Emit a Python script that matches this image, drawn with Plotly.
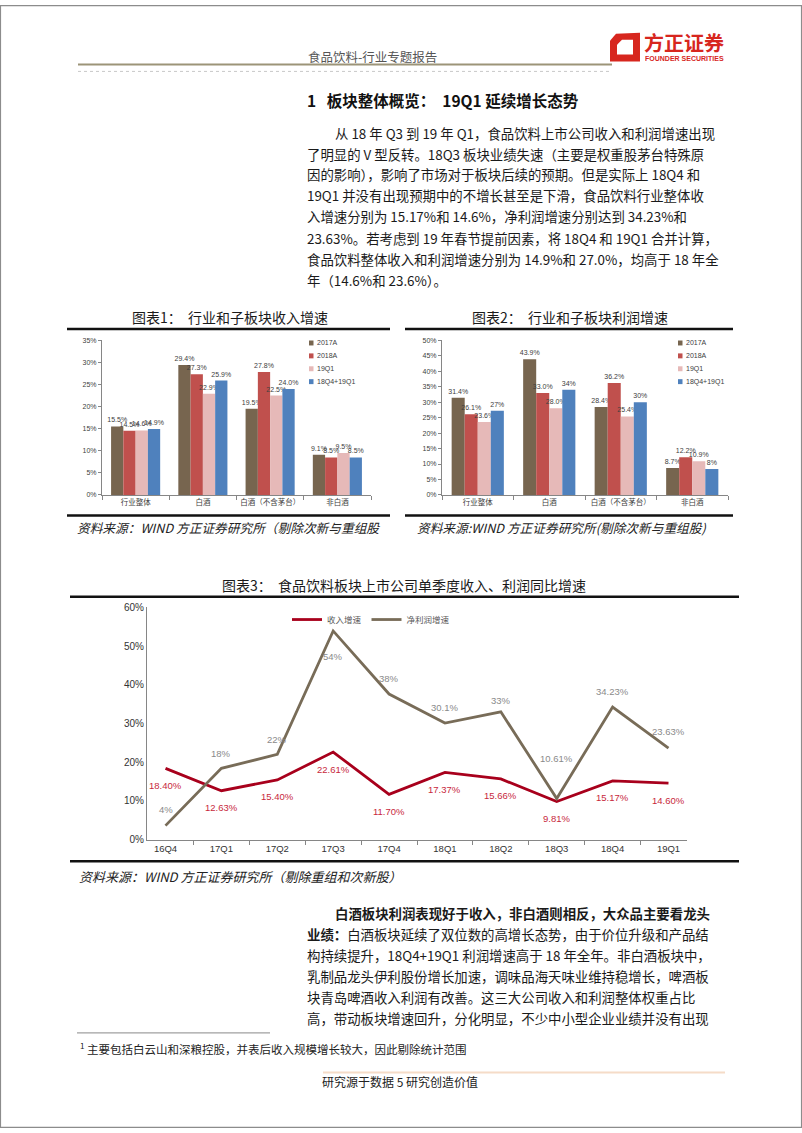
import plotly.graph_objects as go

W, H = 802, 1133


def X(p):
    return p / W


def Y(p):
    return 1 - p / H


# ---------------- data ----------------
categories = ["行业整体", "白酒", "白酒（不含茅台）", "非白酒"]
series_names = ["2017A", "2018A", "19Q1", "18Q4+19Q1"]

rev_2017A = [15.5, 29.4, 19.5, 9.1]
rev_2018A = [14.5, 27.3, 27.8, 8.5]
rev_19Q1 = [14.6, 22.9, 22.5, 9.5]
rev_18Q4_19Q1 = [14.9, 25.9, 24.0, 8.5]

prof_2017A = [31.4, 43.9, 28.4, 8.7]
prof_2018A = [26.1, 33.0, 36.2, 12.2]
prof_19Q1 = [23.6, 28.0, 25.4, 10.9]
prof_18Q4_19Q1 = [27.2, 34.0, 30.0, 8.4]
prof_18Q4_19Q1_labels = ["27%", "34%", "30%", "8%"]

quarters = ["16Q4", "17Q1", "17Q2", "17Q3", "17Q4", "18Q1", "18Q2", "18Q3", "18Q4", "19Q1"]
revenue_q = [18.40, 12.63, 15.40, 22.61, 11.70, 17.37, 15.66, 9.81, 15.17, 14.60]
profit_q = [3.6, 18.4, 22.0, 53.9, 37.6, 30.1, 33.0, 10.61, 34.23, 23.63]
profit_q_labels = ["4%", "18%", "22%", "54%", "38%", "30.1%", "33%", "10.61%", "34.23%", "23.63%"]
line_names = ["收入增速", "净利润增速"]

# ---------------- styles ----------------
bar_colors = ["#77654F", "#C0504D", "#E6B9B8", "#4F81BD"]
CJK = "Noto Sans CJK SC"
SANS = "Liberation Sans, Arial, Noto Sans CJK SC"
rev_color = "#A8001C"
prof_color = "#786C58"

fig = go.Figure()

rev_series = [rev_2017A, rev_2018A, rev_19Q1, rev_18Q4_19Q1]
prof_series = [prof_2017A, prof_2018A, prof_19Q1, prof_18Q4_19Q1]

barfont = dict(size=7, color="#404040", family=SANS)

for i, name in enumerate(series_names):
    fig.add_trace(go.Bar(
        x=categories, y=rev_series[i], name=name,
        marker=dict(color=bar_colors[i], line=dict(width=0)),
        text=[f"{v:.1f}%" for v in rev_series[i]],
        textposition="outside", cliponaxis=False, constraintext="none",
        textfont=barfont, showlegend=False,
        xaxis="x", yaxis="y", hoverinfo="skip",
    ))

for i, name in enumerate(series_names):
    labels = prof_18Q4_19Q1_labels if i == 3 else [f"{v:.1f}%" for v in prof_series[i]]
    fig.add_trace(go.Bar(
        x=categories, y=prof_series[i], name=name,
        marker=dict(color=bar_colors[i], line=dict(width=0)),
        text=labels,
        textposition="outside", cliponaxis=False, constraintext="none",
        textfont=barfont, showlegend=False,
        xaxis="x2", yaxis="y2", hoverinfo="skip",
    ))

fig.add_trace(go.Scatter(
    x=quarters, y=revenue_q, name=line_names[0], mode="lines",
    line=dict(color=rev_color, width=2.8), xaxis="x3", yaxis="y3",
    legend="legend3", cliponaxis=False, hoverinfo="skip",
))
fig.add_trace(go.Scatter(
    x=quarters, y=profit_q, name=line_names[1], mode="lines",
    line=dict(color=prof_color, width=2.8), xaxis="x3", yaxis="y3",
    legend="legend3", cliponaxis=False, hoverinfo="skip",
))

annotations = []
shapes = []

# line labels (data-anchored)
profit_label_shift = [16, 15, 15, -26, 16, 16, 11, 40, 16, 17]
for q, v, lab, s in zip(quarters, profit_q, profit_q_labels, profit_label_shift):
    annotations.append(dict(x=q, y=v, xref="x3", yref="y3", text=lab, showarrow=False,
                            yshift=s, font=dict(size=9.5, color="#8A8A8A", family=SANS)))
for q, v in zip(quarters, revenue_q):
    annotations.append(dict(x=q, y=v, xref="x3", yref="y3", text=f"{v:.2f}%", showarrow=False,
                            yshift=-17, font=dict(size=9.5, color="#C8283C", family=SANS)))


def txt(x, y, s, size=14, color="#1a1a1a", anchor="left", family=CJK, weight=None, style=None, height=None):
    f = dict(size=size, color=color, family=family)
    if weight:
        f["weight"] = weight
    if style:
        f["style"] = style
    a = dict(x=X(x), y=Y(y), xref="paper", yref="paper", text=s,
             showarrow=False, xanchor=anchor, yanchor="middle", font=f)
    if height:
        a["height"] = height
    annotations.append(a)


# manual compact legends for the two bar charts
legend_rows = [341, 354, 367, 380]
for lx in (309, 678):
    for name, color, ly in zip(series_names, bar_colors, legend_rows):
        shapes.append(dict(type="rect", xref="paper", yref="paper",
                           x0=X(lx), x1=X(lx + 4.5), y0=Y(ly + 2.5), y1=Y(ly - 2.5),
                           fillcolor=color, line=dict(width=0)))
        txt(lx + 5.5, ly, name, size=7, color="#404040", family=SANS)

# header
txt(306, 52, "食品饮料-行业专题报告", size=12.5, color="#555555")
txt(642, 37, "<b>方正证券</b>", size=20, color="#D7261E", height=22)
txt(643, 54, "<b>FOUNDER SECURITIES</b>", size=7, color="#D7261E", family=SANS, height=9)

# section title
txt(305, 96, "<b>1   板块整体概览：  19Q1 延续增长态势</b>", size=15.5, color="#111111")

para1 = [
    (333, 129, "从 18 年 Q3 到 19 年 Q1，食品饮料上市公司收入和利润增速出现"),
    (305, 150, "了明显的 V 型反转。18Q3 板块业绩失速（主要是权重股茅台特殊原"),
    (305, 171, "因的影响），影响了市场对于板块后续的预期。但是实际上 18Q4 和"),
    (305, 192, "19Q1 并没有出现预期中的不增长甚至是下滑，食品饮料行业整体收"),
    (305, 213, "入增速分别为 15.17%和 14.6%，净利润增速分别达到 34.23%和"),
    (305, 235, "23.63%。若考虑到 19 年春节提前因素，将 18Q4 和 19Q1 合并计算，"),
    (305, 256, "食品饮料整体收入和利润增速分别为 14.9%和 27.0%，均高于 18 年全"),
    (305, 277, "年（14.6%和 23.6%）。"),
]
for x, y, s in para1:
    txt(x, y, s, size=13.4)

# chart titles
txt(230, 315, "图表1：  行业和子板块收入增速", size=14, anchor="center")
txt(570, 315, "图表2：  行业和子板块利润增速", size=14, anchor="center")
txt(404, 585, "图表3：  食品饮料板块上市公司单季度收入、利润同比增速", size=14, anchor="center")

# sources
txt(75, 527, "资料来源：WIND 方正证券研究所（剔除次新与重组股", size=12.7, style="italic", color="#222222")
txt(415, 527, "资料来源:WIND 方正证券研究所(剔除次新与重组股)", size=12.7, style="italic", color="#222222")
txt(77, 879, "资料来源：WIND 方正证券研究所（剔除重组和次新股）", size=13, style="italic", color="#222222")

para2 = [
    (333, 916, "<b>白酒板块利润表现好于收入，非白酒则相反，大众品主要看龙头</b>"),
    (305, 937, "<b>业绩：</b>白酒板块延续了双位数的高增长态势，由于价位升级和产品结"),
    (305, 958, "构持续提升，18Q4+19Q1 利润增速高于 18 年全年。非白酒板块中，"),
    (305, 980, "乳制品龙头伊利股份增长加速，调味品海天味业维持稳增长，啤酒板"),
    (305, 1001, "块青岛啤酒收入利润有改善。这三大公司收入和利润整体权重占比"),
    (305, 1022, "高，带动板块增速回升，分化明显，不少中小型企业业绩并没有出现"),
]
for x, y, s in para2:
    txt(x, y, s, size=13.4)

txt(78, 1053, "<sup>1</sup> 主要包括白云山和深粮控股，并表后收入规模增长较大，因此剔除统计范围", size=11.5, color="#222222")
txt(400, 1086, "研究源于数据 5 研究创造价值", size=12, anchor="center", color="#222222")

# ---------------- shapes ----------------


def hline(x0, x1, y, color, width, dash="solid"):
    shapes.append(dict(type="line", xref="paper", yref="paper", x0=X(x0), x1=X(x1), y0=Y(y), y1=Y(y),
                       line=dict(color=color, width=width, dash=dash)))


shapes.append(dict(type="rect", xref="paper", yref="paper", x0=0.0006, x1=0.9994, y0=0.0005, y1=0.9995,
                   line=dict(color="#8C8C8C", width=1.2)))
hline(78, 612, 60, "#9C9478", 2)
hline(78, 612, 67, "#C8C8C8", 1, "dot")
hline(67, 390, 327, "#111111", 2.5)
hline(67, 390, 515, "#111111", 2.5)
hline(405, 733, 327, "#111111", 2.5)
hline(405, 733, 515, "#111111", 2.5)
hline(70, 739, 597, "#111111", 2.5)
hline(70, 739, 864, "#111111", 2.5)
hline(77, 270, 1037, "#A0A0A0", 1.3)
hline(323, 725, 1077, "#F5DCC8", 2)


def ppath(pts):
    return "M " + " L ".join(f"{X(a):.5f} {Y(b):.5f}" for a, b in pts) + " Z"


shapes.append(dict(type="path", xref="paper", yref="paper",
                   path=ppath([(616, 29), (640, 28), (640, 57), (610, 57), (610, 36)]),
                   fillcolor="#D7261E", line=dict(width=0)))
shapes.append(dict(type="path", xref="paper", yref="paper",
                   path=ppath([(622, 35), (633, 35), (633, 50), (617, 50), (617, 40)]),
                   fillcolor="white", line=dict(width=0)))

# ---------------- axes ----------------
axis_grey = "#868686"
tickfont_small = dict(size=7, color="#404040", family=SANS)
catfont = dict(size=7.5, color="#404040", family=CJK)

y_dom12 = [Y(494.3), Y(338.3)]

fig.update_layout(
    width=W, height=H, margin=dict(l=0, r=0, t=0, b=0),
    paper_bgcolor="white", plot_bgcolor="rgba(0,0,0,0)",
    barmode="group", bargap=0.27, bargroupgap=0,
    showlegend=True,
    font=dict(family=SANS),
    xaxis=dict(domain=[X(102), X(371)], anchor="y", showline=True, linecolor=axis_grey, linewidth=1,
               ticks="outside", ticklen=4, tickcolor=axis_grey, tickson="boundaries", tickangle=0,
               tickfont=catfont, showgrid=False, fixedrange=True),
    yaxis=dict(domain=y_dom12, anchor="x", range=[0, 35], dtick=5, ticksuffix="%",
               showline=True, linecolor=axis_grey, linewidth=1, ticks="outside", ticklen=3,
               tickcolor=axis_grey, tickfont=tickfont_small, showgrid=False, zeroline=False, fixedrange=True),
    xaxis2=dict(domain=[X(442), X(728)], anchor="y2", showline=True, linecolor=axis_grey, linewidth=1,
                ticks="outside", ticklen=4, tickcolor=axis_grey, tickson="boundaries", tickangle=0,
                tickfont=catfont, showgrid=False, fixedrange=True),
    yaxis2=dict(domain=y_dom12, anchor="x2", range=[0, 50], dtick=5, ticksuffix="%",
                showline=True, linecolor=axis_grey, linewidth=1, ticks="outside", ticklen=3,
                tickcolor=axis_grey, tickfont=tickfont_small, showgrid=False, zeroline=False, fixedrange=True),
    xaxis3=dict(domain=[X(147), X(687)], anchor="y3", showline=True, linecolor=axis_grey, linewidth=1,
                ticks="outside", ticklen=4, tickcolor=axis_grey, tickson="boundaries", tickangle=0,
                tickfont=dict(size=9.5, color="#333333", family=SANS), showgrid=False, fixedrange=True),
    yaxis3=dict(domain=[Y(842), Y(607.7)], anchor="x3", range=[0, 60], dtick=10, ticksuffix="%",
                showline=True, linecolor=axis_grey, linewidth=1, ticks="",
                tickfont=dict(size=10, color="#333333", family=SANS), showgrid=False, zeroline=False,
                fixedrange=True),
    legend3=dict(x=X(287), y=Y(620), xanchor="left", yanchor="middle", orientation="h",
                 font=dict(size=8.5, color="#595959", family=CJK), bgcolor="rgba(0,0,0,0)"),
    annotations=annotations,
    shapes=shapes,
)

fig.write_html("out.html")
